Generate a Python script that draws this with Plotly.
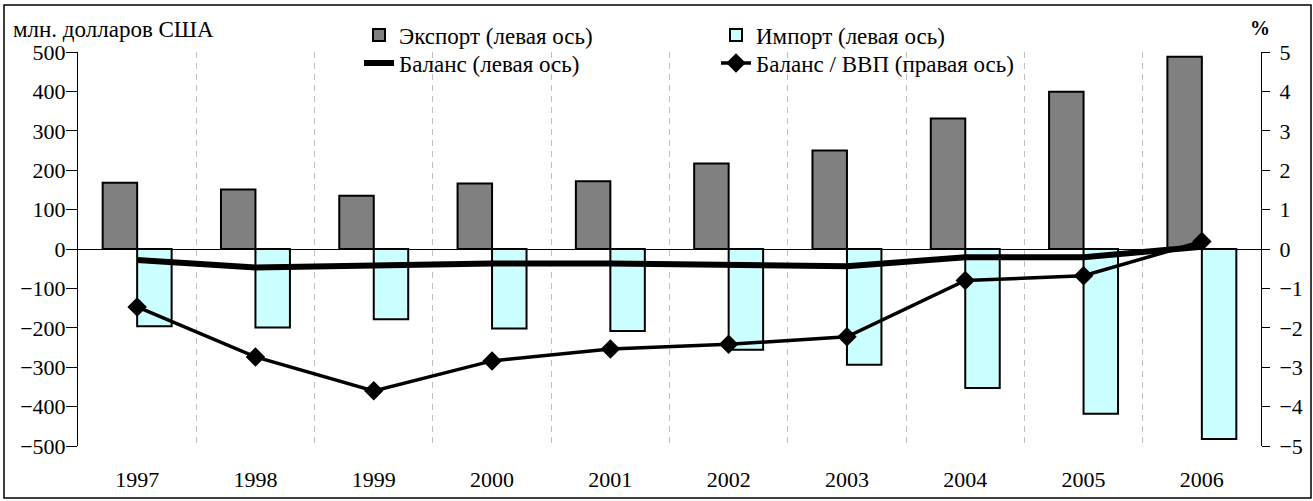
import plotly.graph_objects as go

years = [1997, 1998, 1999, 2000, 2001, 2002, 2003, 2004, 2005, 2006]
exports = [168, 151, 135, 166, 172, 217, 250, 331, 399, 488]
imports = [-196, -199, -178, -202, -208, -256, -294, -353, -418, -482]
balance = [-28, -47, -42, -37, -37, -40, -44, -21, -21, 6]
balance_gdp = [-1.47, -2.74, -3.60, -2.84, -2.54, -2.42, -2.23, -0.80, -0.68, 0.19]
boundaries = [1997.5, 1998.5, 1999.5, 2000.5, 2001.5, 2002.5, 2003.5, 2004.5, 2005.5]
left_ticks = [500, 400, 300, 200, 100, 0, -100, -200, -300, -400, -500]
right_ticks = [5, 4, 3, 2, 1, 0, -1, -2, -3, -4, -5]

FONT = "Liberation Serif, Times New Roman, Times, serif"
FS = 22
LFS = 23
W, H = 1313, 501
ML, MR, MT, MB = 78, 52, 52, 55
PW, PH = W - ML - MR, H - MT - MB


def px_x(p):
    return (p - ML) / PW


def px_y(p):
    return (H - MB - p) / PH


fig = go.Figure()
fig.add_trace(go.Bar(
    x=years, y=exports, name="Экспорт (левая ось)",
    marker=dict(color="#808080", line=dict(color="black", width=2)),
    legend="legend", yaxis="y",
))
fig.add_trace(go.Bar(
    x=years, y=imports, name="Импорт (левая ось)",
    marker=dict(color="#ccffff", line=dict(color="black", width=2)),
    legend="legend2", yaxis="y",
))
fig.add_trace(go.Scatter(
    x=years, y=balance, name="Баланс (левая ось)", mode="lines",
    line=dict(color="black", width=6), legend="legend3", yaxis="y",
))
fig.add_trace(go.Scatter(
    x=years, y=balance_gdp, name="Баланс / ВВП (правая ось)", mode="lines+markers",
    line=dict(color="black", width=3.5),
    marker=dict(symbol="diamond", size=15, color="black"),
    legend="legend4", yaxis="y2",
))


def leg(xpx, ypx):
    return dict(
        x=px_x(xpx), y=px_y(ypx), xanchor="left", yanchor="middle",
        bgcolor="rgba(0,0,0,0)", font=dict(family=FONT, size=LFS),
        itemwidth=30, borderwidth=0,
    )


common_y = dict(showgrid=False, automargin=False, tickcolor="black")

fig.update_layout(
    width=W, height=H,
    margin=dict(l=ML, r=MR, t=MT, b=MB, autoexpand=False),
    paper_bgcolor="white", plot_bgcolor="white",
    font=dict(family=FONT, size=FS, color="black"),
    showlegend=True,
    barmode="group", bargap=0.417, bargroupgap=0,
    xaxis=dict(
        range=[1996.5, 2006.5], tickvals=years, ticktext=[str(y) for y in years],
        ticks="", showgrid=False, zeroline=False, showline=False, automargin=False,
        ticklabelstandoff=18,
        minor=dict(tickvals=boundaries, showgrid=True, gridcolor="#c0c0c0",
                   griddash="6px,5px", gridwidth=1, ticks=""),
    ),
    xaxis2=dict(
        overlaying="x", anchor="free", position=0.5, range=[1996.5, 2006.5],
        tickvals=boundaries, ticks="outside", ticklen=6, tickwidth=1, tickcolor="black",
        showticklabels=False, showgrid=False, zeroline=False, showline=False,
        automargin=False,
    ),
    xaxis3=dict(
        overlaying="x", anchor="free", position=0.5, range=[1996.5, 2006.5],
        tickvals=boundaries, ticks="inside", ticklen=6, tickwidth=1, tickcolor="black",
        showticklabels=False, showgrid=False, zeroline=False, showline=False,
        automargin=False,
    ),
    yaxis=dict(
        range=[-500, 500], tickvals=left_ticks, ticks="outside", ticklen=11,
        showline=True, linecolor="black", linewidth=1,
        zeroline=True, zerolinecolor="black", zerolinewidth=1,
        ticklabelstandoff=-4, **common_y,
    ),
    yaxis3=dict(
        overlaying="y", side="left", range=[-500, 500], tickvals=left_ticks,
        ticks="inside", ticklen=8, showticklabels=False,
        zeroline=False, showline=False, **common_y,
    ),
    yaxis2=dict(
        overlaying="y", side="right", range=[-5, 5], tickvals=right_ticks,
        ticks="outside", ticklen=8, showline=True,
        linecolor="black", linewidth=1, zeroline=False,
        ticklabelstandoff=5, **common_y,
    ),
    yaxis4=dict(
        overlaying="y", side="right", range=[-5, 5], tickvals=right_ticks,
        ticks="inside", ticklen=8, showticklabels=False,
        zeroline=False, showline=False, **common_y,
    ),
    legend=leg(359, 35),
    legend2=leg(716, 35),
    legend3=leg(359, 63),
    legend4=leg(716, 63),
    annotations=[
        dict(text="млн. долларов США", x=px_x(11), y=px_y(29), xref="paper", yref="paper",
             xanchor="left", yanchor="middle", showarrow=False,
             font=dict(family=FONT, size=LFS)),
        dict(text="<b>%</b>", x=px_x(1260), y=px_y(28), xref="paper", yref="paper",
             xanchor="center", yanchor="middle", showarrow=False,
             font=dict(family=FONT, size=20)),
    ],
    shapes=[
        dict(type="rect", xref="paper", yref="paper",
             x0=px_x(4), x1=px_x(1311), y0=px_y(498), y1=px_y(5),
             line=dict(color="black", width=1.5), fillcolor="rgba(0,0,0,0)",
             layer="below"),
    ],
)

fig.write_html(
    "out.html",
    config={"displayModeBar": False},
    post_script="document.body.style.margin='0';document.body.style.padding='0';",
)
